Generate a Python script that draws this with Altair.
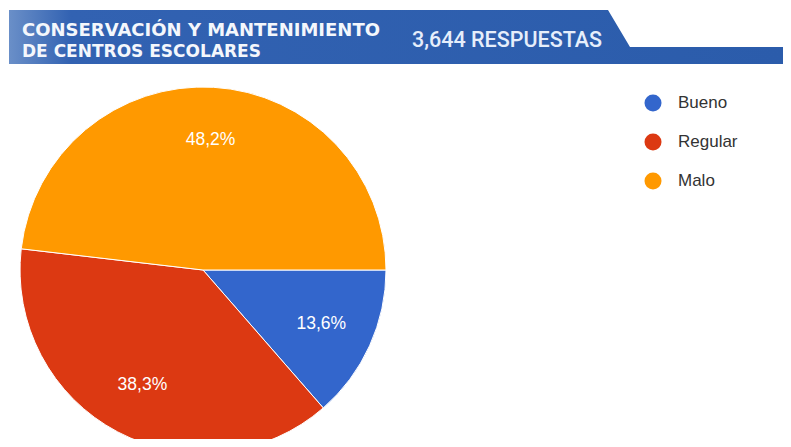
import altair as alt
import pandas as pd

categories = ["Bueno", "Regular", "Malo"]
values = [13.6, 38.3, 48.2]
labels = ["13,6%", "38,3%", "48,2%"]
colors = ["#3366cc", "#dc3912", "#ff9900"]
title_line1 = "CONSERVACIÓN Y MANTENIMIENTO"
title_line2 = "DE CENTROS ESCOLARES"
responses = "3,644 RESPUESTAS"

df = pd.DataFrame({"cat": categories, "val": values, "lab": labels, "ord": list(range(len(categories)))})

W, H = 775, 431
CX, CY, R = 195, 262, 183
PI = 3.141592653589793

theta = alt.Theta("val:Q", stack=True, scale=alt.Scale(range=[PI / 2, PI / 2 + 2 * PI]))
order = alt.Order("ord:Q")

pie = alt.Chart(df).mark_arc(outerRadius=R, stroke="white", strokeWidth=1).encode(
    theta=theta,
    order=order,
    x=alt.value(CX),
    y=alt.value(CY),
    color=alt.Color(
        "cat:N",
        scale=alt.Scale(domain=categories, range=colors),
        sort=categories,
        legend=alt.Legend(
            title=None,
            orient="none",
            legendX=636,
            legendY=86,
            symbolType="circle",
            symbolSize=290,
            symbolStrokeWidth=0,
            labelFontSize=17,
            labelFont="Liberation Sans",
            labelColor="#333333",
            labelOffset=16,
            rowPadding=21,
            padding=0,
        ),
    ),
)

pie_labels = alt.Chart(df).mark_text(
    radius=130, fontSize=17.5, font="Liberation Sans", color="white", align="center", baseline="middle"
).encode(
    theta=theta,
    order=order,
    x=alt.value(CX),
    y=alt.value(CY),
    text="lab:N",
)

banner_df = pd.DataFrame({"bx": [1, 600, 622, 775], "by": [2, 2, 39, 39], "by2": [56, 56, 56, 56]})
banner = alt.Chart(banner_df).mark_area(
    color=alt.Gradient(
        gradient="linear",
        stops=[
            alt.GradientStop(color="#6a8fc8", offset=0),
            alt.GradientStop(color="#3262b2", offset=0.08),
            alt.GradientStop(color="#2b5cab", offset=1),
        ],
        x1=0, x2=1, y1=0, y2=0,
    ),
    interpolate="linear",
).encode(
    x=alt.X("bx:Q", scale=None, axis=None),
    y=alt.Y("by:Q", scale=None, axis=None),
    y2="by2:Q",
)

def txt(s, x, y, size, font, weight="normal", color="white"):
    return alt.Chart(pd.DataFrame({"t": [s]})).mark_text(
        align="left", baseline="alphabetic", fontSize=size, font=font, fontWeight=weight, color=color
    ).encode(x=alt.value(x), y=alt.value(y), text="t:N")

t1 = txt(title_line1, 14, 28, 18, "DejaVu Sans", "bold", "#f4f7fc")
t2 = txt(title_line2, 14, 49, 17, "DejaVu Sans", "bold", "#f4f7fc")
t3 = txt(responses, 404, 39, 21.5, "Roboto", 500, "#e6eefb")

chart = alt.layer(banner, pie, pie_labels, t1, t2, t3).properties(
    width=W, height=H, padding=0, autosize=alt.AutoSizeParams(type="none"), background="white"
).configure_view(stroke=None)

chart.save("out.html", embed_options={"renderer": "svg", "actions": False})
